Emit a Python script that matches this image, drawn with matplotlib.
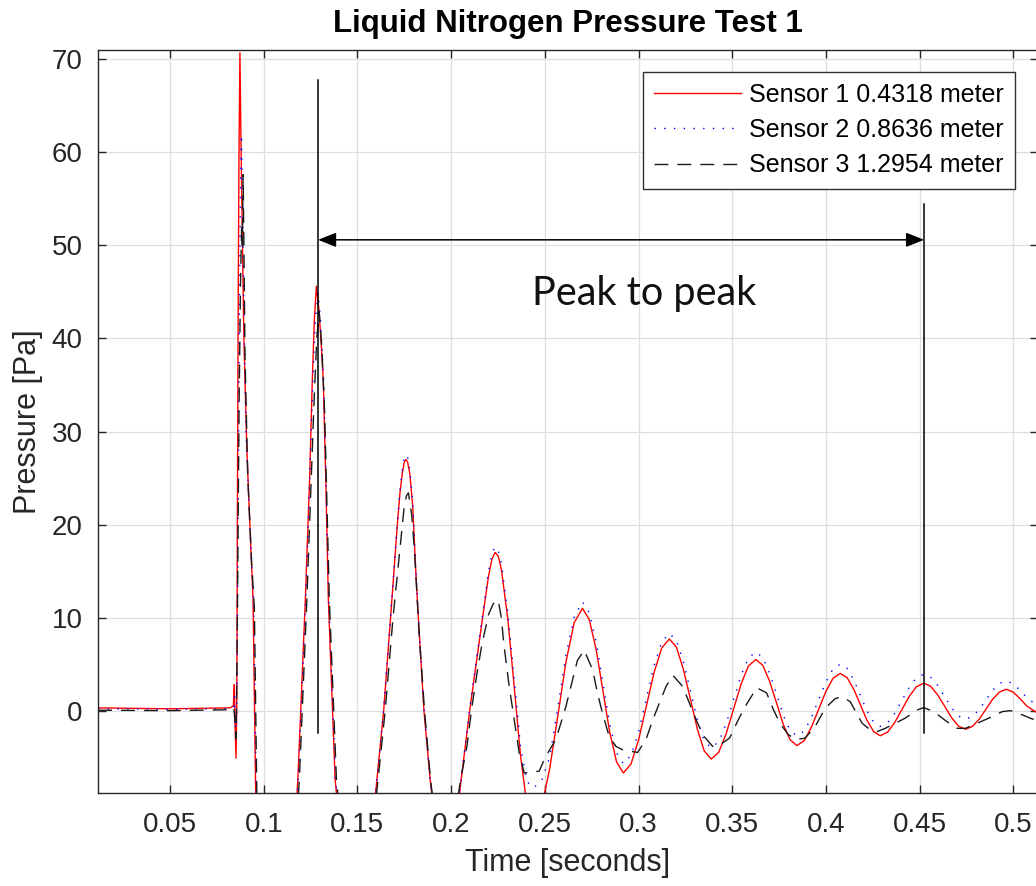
import matplotlib.pyplot as plt

# ---------------------------------------------------------------
# values (time [s], pressure [Pa])
# ---------------------------------------------------------------

# Sensor 1 - 0.4318 m
t_s1 = [0.0116, 0.0500, 0.0820, 0.0838, 0.0843, 0.0847, 0.0852, 0.0855, 0.0857, 0.0860,
        0.0864, 0.0868, 0.0873, 0.0878, 0.0885, 0.0894, 0.0910, 0.0930, 0.0943, 0.0957,
        0.1070, 0.1182, 0.1222, 0.1245, 0.1259, 0.1270, 0.1281, 0.1295, 0.1308, 0.1318,
        0.1332, 0.1345, 0.1381, 0.1492, 0.1604, 0.1640, 0.1677, 0.1713, 0.1727, 0.1740,
        0.1750, 0.1759, 0.1768, 0.1780, 0.1795, 0.1810, 0.1825, 0.1855, 0.1888, 0.1965,
        0.2045, 0.2099, 0.2168, 0.2200, 0.2218,
        0.2235, 0.2252, 0.2269, 0.2303, 0.2337, 0.2370, 0.2404, 0.2438, 0.2482, 0.2526, 0.2570,
        0.2613, 0.2657, 0.2701, 0.2737, 0.2774, 0.2810, 0.2846, 0.2883, 0.2919, 0.2960,
        0.3001, 0.3042, 0.3083, 0.3124, 0.3165, 0.3202, 0.3239, 0.3277, 0.3314, 0.3351,
        0.3388, 0.3428, 0.3467, 0.3507, 0.3547, 0.3586, 0.3626, 0.3663, 0.3699, 0.3736,
        0.3772, 0.3809, 0.3845, 0.3884, 0.3922, 0.3961, 0.4000, 0.4038, 0.4077, 0.4113,
        0.4148, 0.4184, 0.4219, 0.4255, 0.4290, 0.4329, 0.4367, 0.4406, 0.4445, 0.4483,
        0.4522, 0.4559, 0.4596, 0.4634, 0.4671, 0.4708, 0.4745, 0.4781, 0.4818, 0.4854,
        0.4890, 0.4927, 0.4963, 0.4999, 0.5036, 0.5072, 0.5132]
p_s1 = [0.3, 0.2, 0.3, 0.5, 2.8, -1.5, -5.1, -1.0, 5.0, 25.0,
        45.0, 60.0, 70.7, 62.0, 52.0, 40.0, 28.0, 18.0, 12.0, -8.8,
        -45.0, -7.4, 11.9, 25.0, 35.4, 42.0, 45.6, 43.0, 39.0, 35.4,
        24.0, 11.9, -7.4, -30.0, -7.4, 0.0, 10.0, 20.0, 23.4, 25.6,
        26.7, 27.0, 26.7, 25.4, 22.0, 15.5, 10.0, 0.0, -7.4, -20.0,
        -8.8, 0.0, 10.0, 14.5, 16.3,
        17.0, 16.6, 15.1, 9.75, 2.5, -4.75, -10.06, -12.0, -10.46, -6.25, -0.5,
        5.25, 9.46, 11.0, 9.81, 6.58, 2.15, -2.28, -5.51, -6.7, -5.74,
        -3.1, 0.5, 4.1, 6.74, 7.7, 6.84, 4.48, 1.25, -1.98, -4.34,
        -5.2, -4.48, -2.53, 0.15, 2.83, 4.78, 5.5, 4.88, 3.19, 0.875,
        -1.44, -3.13, -3.75, -3.23, -1.81, 0.125, 2.06, 3.48, 4.0, 3.55,
        2.33, 0.65, -1.03, -2.25, -2.7, -2.32, -1.29, 0.125, 1.54, 2.57,
        2.95, 2.62, 1.71, 0.475, -0.76, -1.67, -2.0, -1.71, -0.93, 0.15,
        1.23, 2.01, 2.3, 2.0, 1.3, 0.5, -0.3]

# Sensor 2 - 0.8636 m
t_s2 = [0.0116, 0.0500, 0.0820, 0.0840, 0.0844, 0.0850, 0.0855, 0.0858, 0.0863, 0.0869,
        0.0875, 0.0881, 0.0886, 0.0893, 0.0905, 0.0930, 0.0946, 0.0960, 0.1072, 0.1184,
        0.1224, 0.1262, 0.1276, 0.1290, 0.1303, 0.1320, 0.1347, 0.1383, 0.1492, 0.1604,
        0.1640, 0.1677, 0.1713, 0.1727, 0.1740, 0.1750, 0.1759, 0.1768, 0.1780, 0.1795,
        0.1810, 0.1825, 0.1855, 0.1888,
        0.1965, 0.2045, 0.2099, 0.2168, 0.2200, 0.2218, 0.2235, 0.2252, 0.2269, 0.2303, 0.2337, 0.2370,
        0.2404, 0.2438, 0.2482, 0.2526, 0.2570, 0.2613, 0.2657, 0.2701, 0.2737, 0.2774,
        0.2810, 0.2846, 0.2883, 0.2919, 0.2960, 0.3001, 0.3042, 0.3083, 0.3124, 0.3165,
        0.3202, 0.3239, 0.3277, 0.3314, 0.3351, 0.3388, 0.3428, 0.3467, 0.3507, 0.3547,
        0.3586, 0.3626, 0.3663, 0.3699, 0.3736, 0.3772, 0.3809, 0.3845, 0.3884, 0.3922,
        0.3961, 0.4000, 0.4038, 0.4077, 0.4113, 0.4148, 0.4184, 0.4219, 0.4255, 0.4290,
        0.4329, 0.4367, 0.4406, 0.4445, 0.4483, 0.4522, 0.4559, 0.4596, 0.4634, 0.4671,
        0.4708, 0.4745, 0.4781, 0.4818, 0.4854, 0.4890, 0.4927, 0.4963, 0.4999, 0.5036,
        0.5072, 0.5132]
p_s2 = [0.2, 0.15, 0.2, 0.4, 1.5, -2.5, -1.0, 4.0, 20.0, 40.0,
        55.0, 61.9, 55.0, 45.0, 30.0, 18.0, 11.9, -8.8, -45.0, -7.4,
        11.9, 35.4, 42.0, 44.9, 42.0, 35.4, 11.9, -7.4, -30.0, -7.4,
        0.2, 10.2, 20.2, 23.7, 26.0, 27.2, 27.5, 27.2, 25.9, 22.3,
        15.8, 10.2, 0.2, -7.4,
        -20.0, -8.8, 0.2, 10.3, 15.0, 16.9, 17.6, 17.2, 15.7, 10.4, 3.3, -3.8,
        -7.6, -8.3, -7.6, -5.0, 0.4, 6.0, 10.1, 11.7, 10.56, 7.38,
        3.0, -1.38, -4.56, -5.7, -4.81, -2.23, 1.3, 4.83, 7.41, 8.3,
        7.54, 5.28, 2.15, -0.98, -3.24, -4.0, -3.35, -1.46, 1.15, 3.76,
        5.65, 6.3, 5.72, 4.07, 1.8, -0.47, -2.12, -2.7, -2.19, -0.78,
        1.15, 3.08, 4.49, 5.0, 4.55, 3.33, 1.65, -0.03, -1.25, -1.7,
        -1.32, -0.29, 1.11, 2.51, 3.53, 3.9, 3.59, 2.71, 1.5, 0.29,
        -0.59, -0.9, -0.64, 0.1, 1.15, 2.19, 2.93, 3.2, 2.9, 2.2,
        1.4, 0.5]

# Sensor 3 - 1.2954 m
t_s3 = [0.0116, 0.0500, 0.0820, 0.0840, 0.0846, 0.0851, 0.0855, 0.0860, 0.0868, 0.0876,
        0.0882, 0.0886, 0.0890, 0.0894, 0.0900, 0.0915, 0.0935, 0.0950, 0.0963, 0.1075,
        0.1190, 0.1230, 0.1268, 0.1283, 0.1296, 0.1310, 0.1325, 0.1350, 0.1388, 0.1495,
        0.1610, 0.1648, 0.1690, 0.1725, 0.1750, 0.1762, 0.1772, 0.1790, 0.1805, 0.1830, 0.1858,
        0.1890, 0.1965, 0.2040, 0.2054, 0.2084, 0.2111, 0.2138, 0.2165, 0.2201, 0.2225, 0.2251,
        0.2268, 0.2281, 0.2310, 0.2337, 0.2364, 0.2390, 0.2434, 0.2470, 0.2505, 0.2559, 0.2612,
        0.2674, 0.2710, 0.2755, 0.2781, 0.2808, 0.2844, 0.2880, 0.2915, 0.2995, 0.3040,
        0.3076, 0.3111, 0.3147, 0.3183, 0.3236, 0.3272, 0.3308, 0.3343, 0.3396, 0.3432,
        0.3486, 0.3532, 0.3568, 0.3631, 0.3684, 0.3720, 0.3755, 0.3800, 0.3845, 0.3889,
        0.3943, 0.3996, 0.4050, 0.4086, 0.4130, 0.4193, 0.4237, 0.4273, 0.4317, 0.4371,
        0.4424, 0.4487, 0.4522, 0.4576, 0.4647, 0.4701, 0.4745, 0.4808, 0.4870, 0.4942,
        0.4986, 0.5049, 0.5102, 0.5132]
p_s3 = [0.05, 0.0, 0.1, 0.3, -1.0, -3.0, 0.5, 12.0, 32.0, 46.0,
        52.0, 50.0, 57.6, 50.0, 38.0, 25.0, 16.0, 11.0, -8.8, -45.0,
        -7.4, 11.9, 33.0, 40.0, 42.9, 39.0, 32.0, 11.9, -7.4, -30.0,
        -7.4, 0.0, 10.0, 17.0, 22.0, 23.1, 23.4, 21.0, 17.0, 8.0, 0.0,
        -7.4, -20.0, -8.8, -7.1, -3.85, 0.4, 4.0, 7.2, 10.4, 11.5, 11.9,
        10.0, 7.2, 2.6, -1.0, -4.6, -6.7, -6.6, -6.5, -4.9, -3.1, 0.4,
        5.4, 6.5, 4.4, 1.9, -0.3, -2.8, -3.85, -4.2, -4.5, -3.1,
        -1.0, 0.8, 2.6, 3.8, 2.6, 0.8, -1.0, -2.6, -3.85, -3.7,
        -2.95, -1.0, 0.4, 2.46, 1.9, 0.1, -1.35, -2.6, -3.1, -2.95,
        -1.7, 0.25, 1.3, 1.5, 0.96, -1.35, -2.07, -2.25, -1.9, -1.35,
        -0.8, 0.07, 0.32, -0.1, -1.2, -1.9, -1.9, -1.35, -0.8, -0.1,
        0.0, -0.46, -0.9, -1.0]

labels = ['Sensor 1 0.4318 meter', 'Sensor 2 0.8636 meter', 'Sensor 3 1.2954 meter']

x_ticks = [0.05, 0.1, 0.15, 0.2, 0.25, 0.3, 0.35, 0.4, 0.45, 0.5]
x_ticklabels = ['0.05', '0.1', '0.15', '0.2', '0.25', '0.3', '0.35', '0.4', '0.45', '0.5']
y_ticks = [0, 10, 20, 30, 40, 50, 60, 70]

# peak-to-peak marker
peak_left = 0.1290
peak_right = 0.4524

# ---------------------------------------------------------------
plt.rcParams['font.family'] = ['Liberation Sans', 'DejaVu Sans']

fig = plt.figure(figsize=(10.36, 8.86), dpi=100)
ax = fig.add_axes([98/1036, 93/886, 940/1036, 743/886])

ax.plot(t_s1, p_s1, color='#ff0000', lw=1.0, label=labels[0])
ax.plot(t_s2, p_s2, color='#0000ff', lw=1.0, linestyle=(0, (1, 6)), label=labels[1])
ax.plot(t_s3, p_s3, color='#1a1a1a', lw=1.0, linestyle=(0, (10, 6.5)), label=labels[2])

# annotation lines and double arrow
ax.plot([peak_left, peak_left], [-2.35, 67.8], color='k', lw=1.1)
ax.plot([peak_right, peak_right], [-2.35, 54.4], color='k', lw=1.1)
ax.annotate('', xy=(peak_left, 50.6), xytext=(peak_right, 50.6),
            arrowprops=dict(arrowstyle='<|-|>,head_length=0.55,head_width=0.22',
                            color='k', lw=1.1, mutation_scale=20,
                            shrinkA=0, shrinkB=0))
ax.text(0.3031, 43.6, 'Peak to peak', fontsize=28.5, family='Lato',
        ha='center', va='baseline', color='#111111')

ax.set_xlim(0.01155, 0.5132)
ax.set_ylim(-8.85, 71.0)
ax.set_xticks(x_ticks)
ax.set_xticklabels(x_ticklabels)
ax.set_yticks(y_ticks)

ax.grid(True, color='#dedede', lw=0.9)
ax.set_axisbelow(True)
for sp in ax.spines.values():
    sp.set_color('#262626')
    sp.set_linewidth(1.0)
ax.tick_params(direction='in', length=6, width=1.0, colors='#262626',
               labelsize=20, top=True, right=True)
ax.tick_params(axis='x', pad=14)
ax.tick_params(axis='y', pad=11)
for lab in ax.get_xticklabels() + ax.get_yticklabels():
    lab.set_color('#262626')

ax.set_title('Liquid Nitrogen Pressure Test 1', fontsize=22.5, fontweight='bold',
             pad=13)
ax.set_xlabel('Time [seconds]', fontsize=22, color='#262626')
ax.set_ylabel('Pressure [Pa]', fontsize=22, color='#262626')
ax.xaxis.set_label_coords(0.5, -0.074)
ax.yaxis.set_label_coords(-0.059, 0.5)

leg = ax.legend(loc='upper right', bbox_to_anchor=(0.9755, 0.9708),
                borderaxespad=0, fontsize=18, handlelength=3.5,
                handletextpad=0.3, labelspacing=0.45, borderpad=0.45,
                fancybox=False, framealpha=1, edgecolor='#303030')
leg.get_frame().set_linewidth(1.0)

fig.savefig('out.png', dpi=100)
